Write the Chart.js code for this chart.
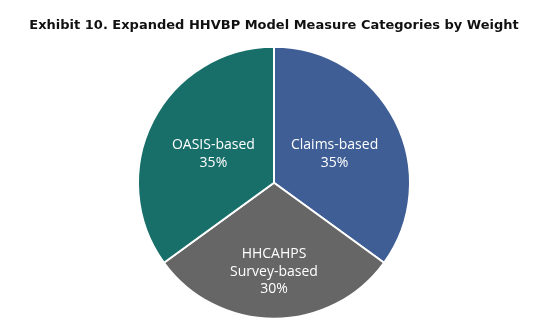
<!DOCTYPE html>
<html>
<head>
<meta charset="utf-8">
<script src="https://cdn.jsdelivr.net/npm/chart.js@4"></script>
<style>
  html, body { margin: 0; padding: 0; background: #fff; }
  #wrap { width: 548px; height: 331px; }
</style>
</head>
<body>
<div id="wrap"><canvas id="pieChart"></canvas></div>
<script>
// measure categories and their share of the total weight
var categories = ['Claims-based', 'HHCAHPS Survey-based', 'OASIS-based'];
var labelLines = [['Claims-based'], ['HHCAHPS', 'Survey-based'], ['OASIS-based']];
var weights = [35, 30, 35];
var sliceColors = ['#3f5e95', '#666666', '#186f6a'];

// writes the category name and percent inside each slice
var sliceLabels = {
    id: 'sliceLabels',
    afterDatasetsDraw: function(chart, args, opts) {
        var ctx = chart.ctx;
        var meta = chart.getDatasetMeta(0);
        ctx.save();
        ctx.fillStyle = '#ffffff';
        ctx.font = opts.size + 'px ' + opts.family;
        ctx.textAlign = 'center';
        ctx.textBaseline = 'middle';
        meta.data.forEach(function(arc, i) {
            var p = arc.getProps(['x', 'y', 'startAngle', 'endAngle', 'outerRadius'], true);
            var mid = (p.startAngle + p.endAngle) / 2;
            var r = p.outerRadius * opts.radial[i];
            var cx = p.x + Math.cos(mid) * r;
            var cy = p.y + Math.sin(mid) * r + opts.shiftY;
            var lines = labelLines[i].concat([weights[i] + '%']);
            var top = cy - (lines.length - 1) * opts.lineGap / 2;
            lines.forEach(function(txt, j) {
                ctx.fillText(txt, cx, top + j * opts.lineGap);
            });
        });
        ctx.restore();
    }
};

var ctx = document.getElementById('pieChart').getContext('2d');
var myPieChart = new Chart(ctx, {
    type: 'pie',
    data: {
        labels: categories,
        datasets: [{
            data: weights,
            backgroundColor: sliceColors,
            borderColor: '#ffffff',
            borderWidth: 2,
            radius: 136
        }]
    },
    options: {
        responsive: true,
        maintainAspectRatio: false,
        animation: false,
        layout: { padding: { bottom: 12 } },
        plugins: {
            legend: { display: false },
            tooltip: { enabled: false },
            title: {
                display: true,
                text: 'Exhibit 10. Expanded HHVBP Model Measure Categories by Weight',
                color: '#111111',
                font: { family: 'DejaVu Sans', size: 13, weight: 'bold' },
                padding: { top: 18, bottom: 13 }
            },
            sliceLabels: {
                family: '"Open Sans", sans-serif',
                size: 14,
                lineGap: 17.5,
                shiftY: 2,
                radial: [0.5, 0.64, 0.5]
            }
        }
    },
    plugins: [sliceLabels]
});
</script>
</body>
</html>
